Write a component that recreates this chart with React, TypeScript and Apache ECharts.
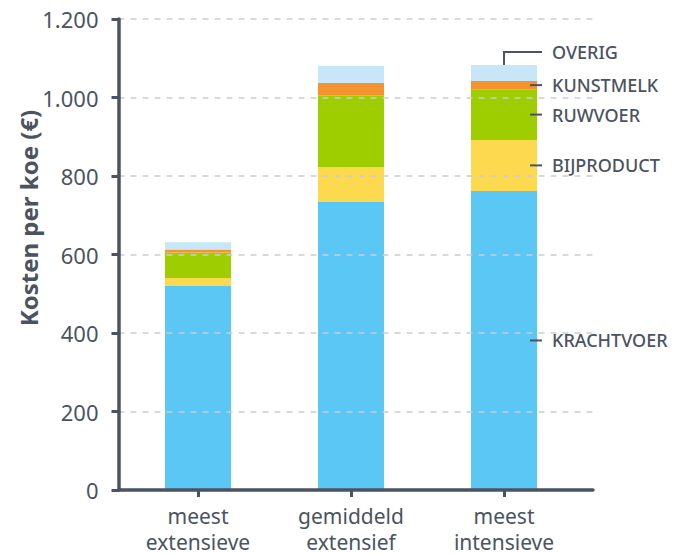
import React, { useEffect, useRef } from 'react';
import * as echarts from 'echarts';

const categories = ['meest\nextensieve', 'gemiddeld\nextensief', 'meest\nintensieve'];
const seriesNames = ['KRACHTVOER', 'BIJPRODUCT', 'RUWVOER', 'KUNSTMELK', 'OVERIG'];
const krachtvoer = [520, 735, 762];
const bijproduct = [20, 87, 130];
const ruwvoer = [65, 184, 129];
const kunstmelk = [8, 31, 21];
const overig = [18, 43, 41];
const seriesColors = ['#5BC7F4', '#FCD94F', '#9FCE00', '#F7932F', '#C7E6F7'];
const yMin = 0;
const yMax = 1200;
const yInterval = 200;
const yAxisName = 'Kosten per koe (€)';
const labelledBar = 2;

const TEXT = '#4B5361';
const FONT = '"Noto Sans", sans-serif';

const fmt = (v: number) => String(v).replace(/\B(?=(\d{3})+(?!\d))/g, '.');

export default function App() {
  const ref = useRef<HTMLDivElement>(null);
  useEffect(() => {
    document.body.style.margin = '0';
    if (!ref.current) return;
    const chart = echarts.init(ref.current, undefined, { renderer: 'svg' });
    const allData = [krachtvoer, bijproduct, ruwvoer, kunstmelk, overig];
    chart.setOption({
      animation: false,
      textStyle: { fontFamily: FONT },
      grid: [
        { left: 118.5, right: 96, top: 19, bottom: 65 },
        { left: 121.5, right: 108.5, top: 19, bottom: 65 },
      ],
      xAxis: [
        {
          gridIndex: 0,
          type: 'value',
          min: 0,
          max: 1,
          z: 10,
          axisLine: { show: true, lineStyle: { color: TEXT, width: 3.5 } },
          axisTick: { show: false },
          axisLabel: { show: false },
          splitLine: { show: false },
        },
        {
          gridIndex: 1,
          type: 'category',
          data: categories,
          axisLine: { show: false },
          axisTick: { show: true, alignWithLabel: true, length: 7, lineStyle: { color: TEXT, width: 3 } },
          axisLabel: { color: TEXT, fontSize: 21, lineHeight: 26, margin: 13, fontFamily: FONT },
        },
      ],
      yAxis: [
        {
          gridIndex: 0,
          type: 'value',
          min: yMin,
          max: yMax,
          interval: yInterval,
          z: 10,
          axisLine: { show: true, lineStyle: { color: TEXT, width: 3.5 } },
          axisTick: { show: true, length: 7, lineStyle: { color: TEXT, width: 3 } },
          axisLabel: { color: TEXT, fontSize: 22, margin: 20, formatter: fmt, fontFamily: FONT },
          splitLine: { show: true, lineStyle: { color: '#C9CED4', type: [6, 6], width: 1.5 } },
        },
        { gridIndex: 1, type: 'value', min: yMin, max: yMax, show: false },
      ],
      series: seriesNames.map((name, i) => ({
        name,
        type: 'bar',
        stack: 'total',
        xAxisIndex: 1,
        yAxisIndex: 1,
        barWidth: 66,
        data: allData[i],
        itemStyle: { color: seriesColors[i] },
      })),
    });

    const graphics: any[] = [
      {
        type: 'text',
        x: 28,
        y: 218,
        rotation: Math.PI / 2,
        style: {
          text: yAxisName,
          fill: TEXT,
          font: `bold 24px ${FONT}`,
          align: 'center',
          verticalAlign: 'middle',
        },
      },
    ];
    let cum = 0;
    seriesNames.forEach((name, i) => {
      const v = allData[i][labelledBar];
      const mid = cum + v / 2;
      cum += v;
      const isLast = i === seriesNames.length - 1;
      let lineY: number;
      let cx: number;
      if (isLast) {
        const top = chart.convertToPixel({ xAxisIndex: 1, yAxisIndex: 1 } as any, [labelledBar, cum]) as number[];
        cx = top[0];
        lineY = top[1] - 13;
        graphics.push({
          type: 'polyline',
          shape: { points: [[cx, top[1]], [cx, lineY], [cx + 38, lineY]] },
          style: { stroke: TEXT, lineWidth: 2, fill: null },
          z: 20,
        });
      } else {
        const p = chart.convertToPixel({ xAxisIndex: 1, yAxisIndex: 1 } as any, [labelledBar, mid]) as number[];
        cx = p[0];
        lineY = p[1];
        graphics.push({
          type: 'line',
          shape: { x1: cx + 26, y1: lineY, x2: cx + 38, y2: lineY },
          style: { stroke: TEXT, lineWidth: 2 },
          z: 20,
        });
      }
      graphics.push({
        type: 'text',
        x: cx + 48,
        y: lineY,
        z: 20,
        style: {
          text: name,
          fill: TEXT,
          font: `500 18px ${FONT}`,
          align: 'left',
          verticalAlign: 'middle',
        },
      });
    });
    chart.setOption({ graphic: graphics });
    return () => chart.dispose();
  }, []);
  return <div ref={ref} style={{ width: 689, height: 555 }} />;
}
